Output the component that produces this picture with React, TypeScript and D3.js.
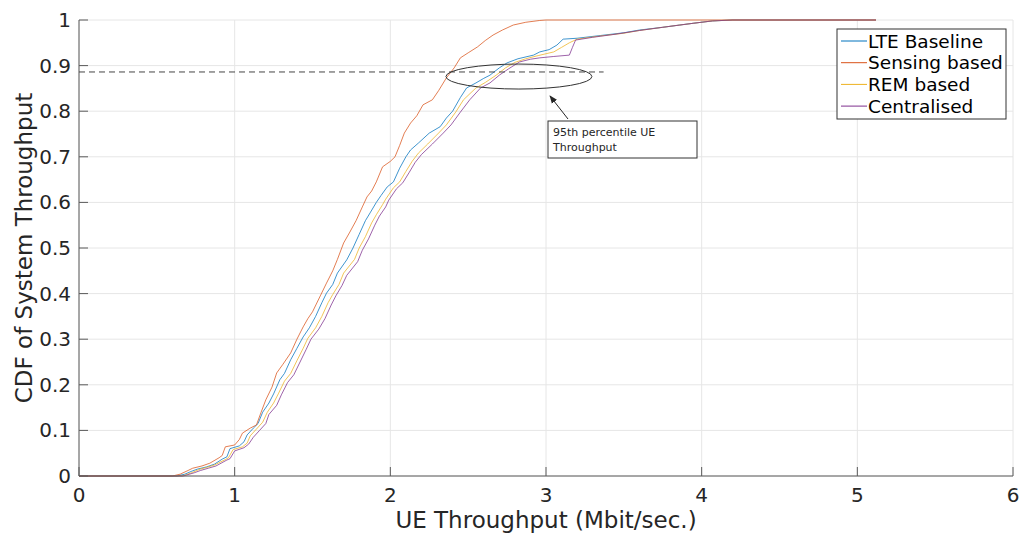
import React from "react";
import * as d3 from "d3";

type P = [number, number];

const xTicks = [0, 1, 2, 3, 4, 5, 6];
const yTicks = [0, 0.1, 0.2, 0.3, 0.4, 0.5, 0.6, 0.7, 0.8, 0.9, 1];
const seriesNames = ["LTE Baseline", "Sensing based", "REM based", "Centralised"];
const seriesColors = ["#0072BD", "#D95319", "#EDB120", "#7E2F8E"];

const lteBaseline: P[] = [
  [0, 0], [0.63, 0], [0.68, 0.004], [0.72, 0.01], [0.76, 0.015], [0.82, 0.02], [0.87, 0.026], [0.92, 0.037],
  [0.95, 0.042], [0.97, 0.06], [1.03, 0.066], [1.06, 0.075], [1.08, 0.09], [1.12, 0.105], [1.15, 0.115],
  [1.18, 0.14], [1.22, 0.16], [1.25, 0.18], [1.29, 0.211], [1.32, 0.225], [1.36, 0.255], [1.4, 0.28],
  [1.44, 0.305], [1.48, 0.325], [1.52, 0.35], [1.56, 0.38], [1.59, 0.401], [1.63, 0.42], [1.66, 0.445],
  [1.72, 0.474], [1.76, 0.5], [1.8, 0.53], [1.84, 0.56], [1.87, 0.577], [1.91, 0.6], [1.94, 0.615],
  [1.98, 0.634], [2.02, 0.645], [2.06, 0.675], [2.1, 0.7], [2.13, 0.715], [2.18, 0.73], [2.25, 0.752],
  [2.32, 0.766], [2.36, 0.785], [2.4, 0.8], [2.45, 0.83], [2.49, 0.851], [2.55, 0.862], [2.6, 0.872],
  [2.64, 0.879], [2.7, 0.895], [2.75, 0.906], [2.82, 0.915], [2.92, 0.923], [2.96, 0.93], [3.02, 0.935],
  [3.07, 0.945], [3.11, 0.958], [3.2, 0.96], [3.35, 0.966], [3.5, 0.972], [3.6, 0.978], [3.75, 0.984],
  [3.86, 0.989], [3.95, 0.993], [4.07, 0.998], [4.2, 1], [5.12, 1],
];

const sensingBased: P[] = [
  [0, 0], [0.6, 0], [0.65, 0.004], [0.7, 0.012], [0.73, 0.017], [0.79, 0.022], [0.84, 0.028], [0.9, 0.04],
  [0.92, 0.045], [0.94, 0.064], [1.0, 0.068], [1.03, 0.08], [1.05, 0.094], [1.1, 0.105], [1.14, 0.112],
  [1.17, 0.14], [1.2, 0.167], [1.24, 0.195], [1.27, 0.226], [1.31, 0.245], [1.36, 0.27], [1.4, 0.3],
  [1.44, 0.327], [1.47, 0.345], [1.5, 0.36], [1.55, 0.395], [1.59, 0.423], [1.63, 0.45], [1.66, 0.475],
  [1.7, 0.511], [1.74, 0.535], [1.78, 0.56], [1.82, 0.59], [1.85, 0.612], [1.88, 0.625], [1.91, 0.645],
  [1.95, 0.678], [2.0, 0.69], [2.03, 0.7], [2.06, 0.725], [2.09, 0.752], [2.13, 0.774], [2.17, 0.79],
  [2.21, 0.814], [2.27, 0.825], [2.31, 0.845], [2.36, 0.873], [2.41, 0.895], [2.45, 0.917], [2.5, 0.928],
  [2.56, 0.941], [2.61, 0.955], [2.66, 0.967], [2.72, 0.978], [2.79, 0.989], [2.87, 0.995], [2.96, 0.999],
  [3.0, 1], [5.12, 1],
];

const remBased: P[] = [
  [0, 0], [0.66, 0], [0.69, 0.003], [0.73, 0.008], [0.77, 0.014], [0.82, 0.019], [0.87, 0.024], [0.94, 0.036],
  [0.96, 0.04], [0.99, 0.058], [1.05, 0.064], [1.08, 0.072], [1.1, 0.088], [1.14, 0.103], [1.18, 0.118],
  [1.21, 0.14], [1.25, 0.16], [1.28, 0.18], [1.32, 0.208], [1.36, 0.225], [1.4, 0.253], [1.44, 0.28],
  [1.47, 0.302], [1.52, 0.325], [1.56, 0.35], [1.6, 0.38], [1.63, 0.398], [1.67, 0.42], [1.7, 0.445],
  [1.77, 0.475], [1.8, 0.5], [1.84, 0.525], [1.88, 0.555], [1.91, 0.573], [1.95, 0.595], [1.97, 0.607],
  [2.02, 0.632], [2.06, 0.645], [2.1, 0.668], [2.14, 0.69], [2.18, 0.708], [2.24, 0.728], [2.31, 0.752],
  [2.36, 0.77], [2.42, 0.798], [2.47, 0.825], [2.55, 0.851], [2.61, 0.863], [2.68, 0.879], [2.74, 0.895],
  [2.8, 0.907], [2.87, 0.915], [2.95, 0.922], [3.05, 0.93], [3.1, 0.94], [3.15, 0.95], [3.2, 0.958],
  [3.35, 0.965], [3.5, 0.971], [3.6, 0.977], [3.75, 0.984], [3.86, 0.989], [3.95, 0.993], [4.07, 0.998],
  [4.2, 1], [5.12, 1],
];

const centralised: P[] = [
  [0, 0], [0.67, 0], [0.7, 0.003], [0.74, 0.007], [0.78, 0.012], [0.83, 0.017], [0.88, 0.022], [0.95, 0.035],
  [0.97, 0.038], [1.0, 0.055], [1.06, 0.062], [1.09, 0.07], [1.12, 0.085], [1.16, 0.1], [1.2, 0.115],
  [1.22, 0.135], [1.27, 0.155], [1.3, 0.178], [1.34, 0.205], [1.38, 0.222], [1.42, 0.25], [1.46, 0.278],
  [1.49, 0.3], [1.54, 0.322], [1.58, 0.345], [1.62, 0.375], [1.65, 0.395], [1.69, 0.418], [1.72, 0.44],
  [1.79, 0.47], [1.82, 0.495], [1.86, 0.52], [1.9, 0.55], [1.93, 0.57], [1.97, 0.59], [1.99, 0.605],
  [2.04, 0.63], [2.08, 0.643], [2.12, 0.665], [2.16, 0.688], [2.2, 0.705], [2.27, 0.728], [2.34, 0.752],
  [2.39, 0.77], [2.45, 0.798], [2.51, 0.825], [2.58, 0.851], [2.64, 0.862], [2.7, 0.879], [2.76, 0.893],
  [2.83, 0.908], [2.9, 0.914], [2.96, 0.917], [3.05, 0.92], [3.15, 0.923], [3.17, 0.94], [3.19, 0.956],
  [3.3, 0.962], [3.45, 0.969], [3.6, 0.977], [3.75, 0.984], [3.86, 0.989], [3.95, 0.993], [4.07, 0.998],
  [4.2, 1], [5.12, 1],
];

const seriesData = [lteBaseline, sensingBased, remBased, centralised];

// annotation (data units)
const percentileLevel = 0.886;
const percentileLineEnd = 3.37;
const ellipseCenter: P = [2.826, 0.876];
const ellipseRadii: P = [0.469, 0.0274];
const noteLines = ["95th percentile UE", "Throughput"];

const W = 1021;
const H = 535;
const M = { left: 79, right: 1013, top: 20, bottom: 476 };
const FONT = "'DejaVu Sans', Verdana, sans-serif";
const AX = "#262626";

export default function App() {
  const x = d3.scaleLinear().domain([0, 6]).range([M.left, M.right]);
  const y = d3.scaleLinear().domain([0, 1]).range([M.bottom, M.top]);
  const line = d3
    .line<P>()
    .x((d) => x(d[0]))
    .y((d) => y(d[1]))
    .curve(d3.curveLinear);

  const ex = x(ellipseCenter[0]);
  const ey = y(ellipseCenter[1]);
  const erx = x(ellipseCenter[0] + ellipseRadii[0]) - ex;
  const ery = ey - y(ellipseCenter[1] + ellipseRadii[1]);

  const boxX = 548;
  const boxY = 121;
  const legX = 837;
  const legY = 29;

  return (
    <svg
      width={W}
      height={H}
      style={{ position: "absolute", left: 0, top: 0, background: "#fff" }}
      fontFamily={FONT}
    >
      <defs>
        <marker id="arrow" viewBox="0 0 10 10" refX="9" refY="5" markerWidth="8" markerHeight="8" orient="auto-start-reverse" markerUnits="userSpaceOnUse">
          <path d="M0,1 L10,5 L0,9 Z" fill={AX} />
        </marker>
      </defs>
      <rect x={0} y={0} width={W} height={H} fill="#fff" />
      {/* grid */}
      {xTicks.map((t) => (
        <line key={"gx" + t} x1={x(t)} x2={x(t)} y1={M.top} y2={M.bottom} stroke="#e6e6e6" strokeWidth={1} />
      ))}
      {yTicks.map((t) => (
        <line key={"gy" + t} x1={M.left} x2={M.right} y1={y(t)} y2={y(t)} stroke="#e6e6e6" strokeWidth={1} />
      ))}
      {/* series */}
      {seriesData.map((d, i) => (
        <path key={"s" + i} d={line(d) || ""} fill="none" stroke={seriesColors[i]} strokeWidth={1} strokeOpacity={0.75} />
      ))}
      {/* axes */}
      <line x1={M.left} x2={M.right} y1={M.bottom} y2={M.bottom} stroke="#5a5a5a" strokeWidth={1} />
      <line x1={M.left} x2={M.left} y1={M.top} y2={M.bottom} stroke="#5a5a5a" strokeWidth={1} />
      {xTicks.map((t) => (
        <g key={"tx" + t}>
          <line x1={x(t)} x2={x(t)} y1={M.bottom} y2={M.bottom - 9} stroke="#5a5a5a" strokeWidth={1} />
          <text x={x(t)} y={495} fontSize={20} fill={AX} textAnchor="middle" dominantBaseline="central">
            {t}
          </text>
        </g>
      ))}
      {yTicks.map((t) => (
        <g key={"ty" + t}>
          <line x1={M.left} x2={M.left + 9} y1={y(t)} y2={y(t)} stroke="#5a5a5a" strokeWidth={1} />
          <text x={71} y={y(t)} fontSize={20} fill={AX} textAnchor="end" dominantBaseline="central">
            {d3.format("~g")(t)}
          </text>
        </g>
      ))}
      <text x={(M.left + M.right) / 2} y={520} fontSize={23} fill={AX} textAnchor="middle" dominantBaseline="central">
        UE Throughput (Mbit/sec.)
      </text>
      <text
        transform={`translate(24,${(M.top + M.bottom) / 2}) rotate(-90)`}
        fontSize={23}
        fill={AX}
        textAnchor="middle"
        dominantBaseline="central"
      >
        CDF of System Throughput
      </text>
      {/* annotations */}
      <line
        x1={x(0)}
        x2={x(percentileLineEnd)}
        y1={y(percentileLevel)}
        y2={y(percentileLevel)}
        stroke="#444"
        strokeWidth={1}
        strokeDasharray="6,4"
      />
      <ellipse cx={ex} cy={ey} rx={erx} ry={ery} fill="none" stroke="#333" strokeWidth={1} />
      <line x1={568} y1={119} x2={550} y2={96} stroke={AX} strokeWidth={1} markerEnd="url(#arrow)" />
      <rect x={boxX} y={boxY} width={149} height={37} fill="#fff" stroke="#333" strokeWidth={1} />
      {noteLines.map((l, i) => (
        <text key={"n" + i} x={boxX + 5} y={boxY + 11 + i * 15} fontSize={11} fill={AX} dominantBaseline="central">
          {l}
        </text>
      ))}
      {/* legend */}
      <rect x={legX} y={legY} width={169} height={90} fill="#fff" stroke="#333" strokeWidth={1} />
      {seriesNames.map((n, i) => (
        <g key={"l" + i}>
          <line x1={legX + 4} x2={legX + 30} y1={legY + 12 + i * 21.7} y2={legY + 12 + i * 21.7} stroke={seriesColors[i]} strokeWidth={1} />
          <text x={legX + 31} y={legY + 12 + i * 21.7} fontSize={18.5} fill="#000" dominantBaseline="central">
            {n}
          </text>
        </g>
      ))}
    </svg>
  );
}
